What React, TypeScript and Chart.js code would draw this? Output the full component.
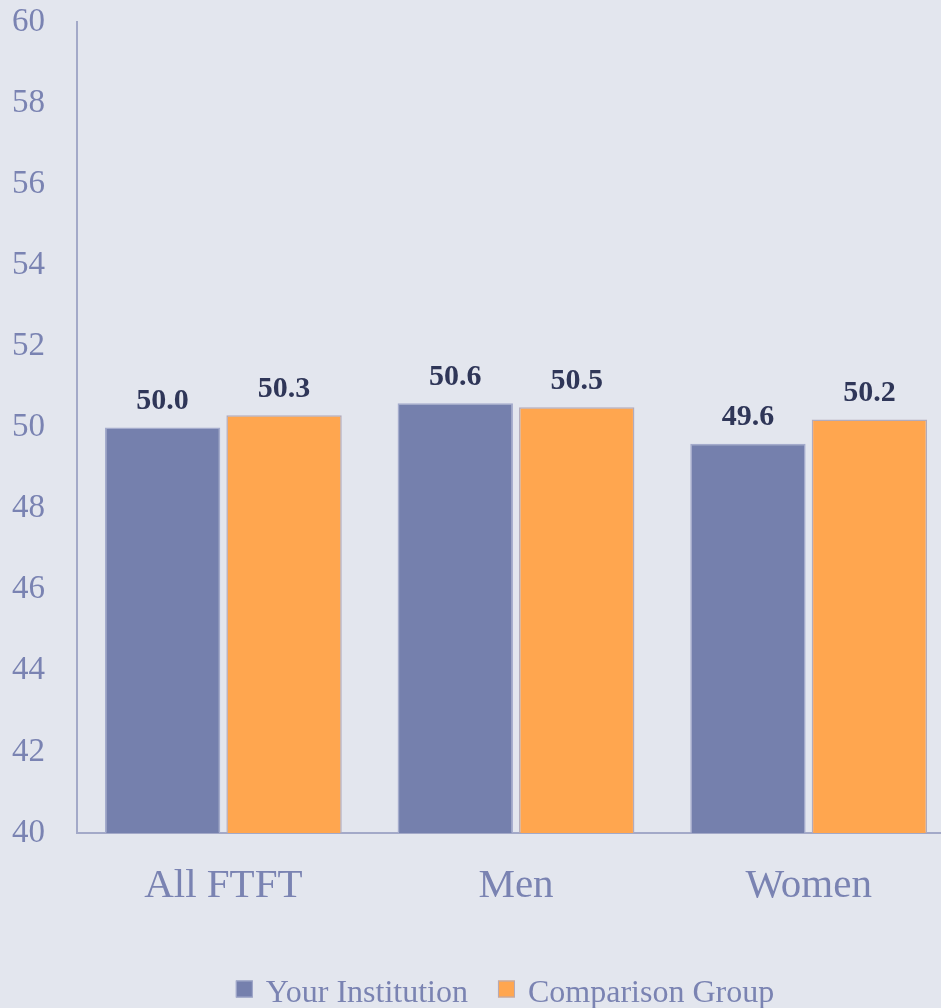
import React, { useEffect, useRef } from "react";
import { Chart, registerables } from "chart.js";

Chart.register(...registerables);

const categories = ["All FTFT", "Men", "Women"];
const seriesNames = ["Your Institution", "Comparison Group"];
const yourInstitution = [50.0, 50.6, 49.6];
const comparisonGroup = [50.3, 50.5, 50.2];
const yTicks = [40, 42, 44, 46, 48, 50, 52, 54, 56, 58, 60];

const FONT = "'Liberation Serif', 'Times New Roman', serif";
const TICK_COLOR = "#7a83b2";
const AXIS_COLOR = "#a3a9c8";

const dataLabels = {
  id: "dataLabels",
  afterDatasetsDraw(chart: any) {
    const ctx = chart.ctx;
    ctx.save();
    ctx.font = `bold 30px ${FONT}`;
    ctx.fillStyle = "#2f3658";
    ctx.textAlign = "center";
    ctx.textBaseline = "bottom";
    chart.data.datasets.forEach((ds: any, di: number) => {
      const meta = chart.getDatasetMeta(di);
      meta.data.forEach((el: any, i: number) => {
        ctx.fillText(Number(ds.data[i]).toFixed(1), el.x, el.y - 11);
      });
    });
    ctx.restore();
  },
};

const customLegend = {
  id: "customLegend",
  afterDraw(chart: any) {
    const ctx = chart.ctx;
    ctx.save();
    ctx.font = `32px ${FONT}`;
    const box = 17;
    const gapText = 13;
    const gapItem = 30;
    const items = chart.data.datasets.map((ds: any) => ({
      label: ds.label,
      fill: ds.backgroundColor,
      stroke: ds.borderColor,
      w: ctx.measureText(ds.label).width,
    }));
    const total =
      items.reduce((s: number, it: any) => s + box + gapText + it.w, 0) +
      gapItem * (items.length - 1);
    let x = chart.width / 2 - total / 2;
    const cy = chart.height - 19;
    ctx.textBaseline = "middle";
    ctx.textAlign = "left";
    items.forEach((it: any) => {
      ctx.fillStyle = it.fill;
      ctx.fillRect(x, cy - box / 2, box, box);
      ctx.strokeStyle = it.stroke;
      ctx.lineWidth = 1;
      ctx.strokeRect(x + 0.5, cy - box / 2 + 0.5, box - 1, box - 1);
      ctx.fillStyle = TICK_COLOR;
      ctx.fillText(it.label, x + box + gapText, cy + 5);
      x += box + gapText + it.w + gapItem;
    });
    ctx.restore();
  },
};

export default function App() {
  const ref = useRef<HTMLCanvasElement>(null);
  useEffect(() => {
    document.body.style.margin = "0";
    const chart = new Chart(ref.current!, {
      type: "bar",
      data: {
        labels: categories,
        datasets: [
          {
            label: seriesNames[0],
            data: yourInstitution,
            backgroundColor: "#7580ad",
            borderColor: "#a4abcc",
            borderWidth: 1.5,
            categoryPercentage: 0.83,
            barPercentage: 0.95,
          },
          {
            label: seriesNames[1],
            data: comparisonGroup,
            backgroundColor: "#ffa64f",
            borderColor: "#b3abbb",
            borderWidth: 1.5,
            categoryPercentage: 0.83,
            barPercentage: 0.95,
          },
        ],
      },
      options: {
        animation: false,
        responsive: false,
        layout: { padding: { left: 12, right: 55, top: 22, bottom: 95 } },
        scales: {
          x: {
            grid: { display: false, drawTicks: false },
            border: { display: true, color: AXIS_COLOR, width: 2 },
            ticks: {
              color: TICK_COLOR,
              font: { family: FONT, size: 41 },
              padding: 29,
            },
            afterFit: (a: any) => {
              a.height = 80;
            },
          },
          y: {
            min: 40,
            max: 60,
            afterBuildTicks: (axis: any) => {
              axis.ticks = yTicks.map((v) => ({ value: v }));
            },
            grid: { display: false, drawTicks: false },
            border: { display: true, color: AXIS_COLOR, width: 2 },
            ticks: {
              color: TICK_COLOR,
              font: { family: FONT, size: 33 },
              padding: 32,
            },
            afterFit: (a: any) => {
              a.width = 65;
              a.paddingTop = 0;
              a.paddingBottom = 0;
            },
          },
        },
        plugins: {
          tooltip: { enabled: false },
          legend: { display: false },
        },
      },
      plugins: [dataLabels, customLegend],
    });
    return () => chart.destroy();
  }, []);
  return (
    <div style={{ width: 941, height: 1008, overflow: "hidden", background: "#e3e6ee" }}>
      <canvas ref={ref} width={1010} height={1008} style={{ display: "block" }} />
    </div>
  );
}
